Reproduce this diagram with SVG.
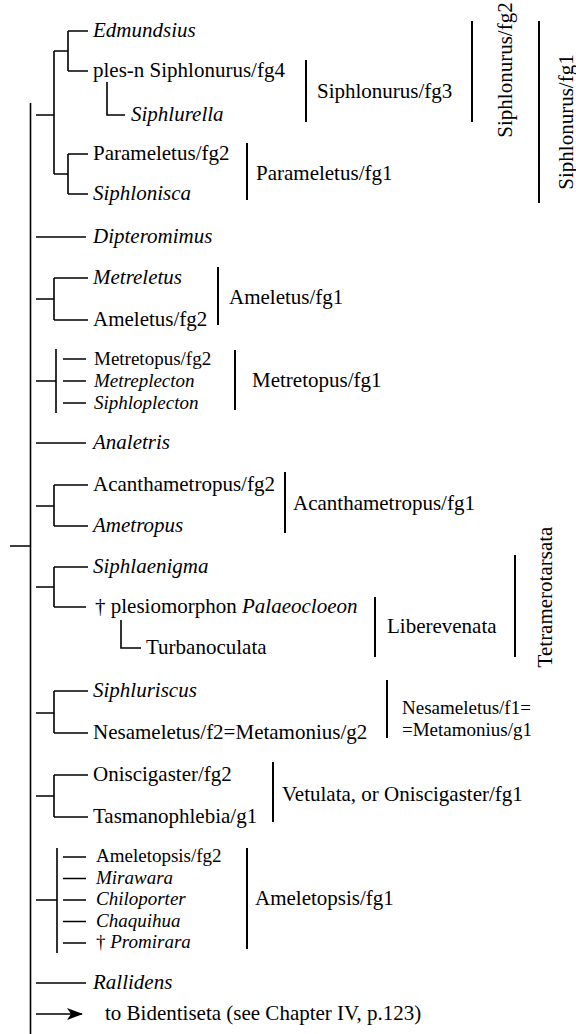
<svg xmlns="http://www.w3.org/2000/svg" width="576" height="1034" viewBox="0 0 576 1034">
<style>
.ln{stroke:#000;stroke-width:1.6;fill:none;stroke-linecap:butt}
.br{stroke:#000;stroke-width:2;fill:none}
.t{font-family:"Liberation Serif","Times New Roman",serif;font-size:21px;fill:#000}
.s{font-size:19px}
.i{font-style:italic}
.v{text-anchor:middle}
</style>
<defs>
<marker id="arr" viewBox="0 0 16 12" refX="15" refY="6" markerWidth="16" markerHeight="12" markerUnits="userSpaceOnUse" orient="auto">
<path d="M0,0 L16,6 L0,12 L4,6 Z" fill="#000"/>
</marker>
</defs>
<g id="connectors">
<path class="ln" d="M30.5,103 V1034 M10,546 H30.5"/>
<path class="ln" d="M36,115 H54 M54,51 V174 M54,51 H68 M68,31 V71 M68,31 H88 M68,71 H88 M107,82 V115 H125 M54,174 H68 M68,154 V194 M68,154 H88 M68,194 H88"/>
<path class="ln" d="M36,237 H86"/>
<path class="ln" d="M36,299 H54 M54,278 V320 M54,278 H88 M54,320 H88"/>
<path class="ln" d="M36,381 H56 M56,349 V413 M63,359 H86 M63,381 H86 M63,403 H86"/>
<path class="ln" d="M36,443 H86"/>
<path class="ln" d="M36,506 H54 M54,485 V526 M54,485 H88 M54,526 H88"/>
<path class="ln" d="M36,587 H54 M54,567 V607 M54,567 H88 M54,607 H86 M121,620 V648 H141"/>
<path class="ln" d="M36,713 H54 M54,691 V733 M54,691 H88 M54,733 H88"/>
<path class="ln" d="M36,796 H54 M54,775 V817 M54,775 H88 M54,817 H88"/>
<path class="ln" d="M36,900 H57 M57,848 V953 M63,857 H86 M63,878.5 H86 M63,900 H86 M63,921.5 H86 M63,943 H86"/>
<path class="ln" d="M36,983 H86"/>
<path class="ln" d="M36,1014 H82" marker-end="url(#arr)"/>
</g>
<g id="n-edmundsius"><text class="t i" x="93" y="37">Edmundsius</text></g>
<g id="n-plesn"><text class="t" x="93" y="77">ples-n Siphlonurus/fg4</text></g>
<g id="n-siphlurella"><text class="t i" x="131" y="121">Siphlurella</text></g>
<g id="n-parameletus2"><text class="t" x="93" y="160">Parameletus/fg2</text></g>
<g id="n-siphlonisca"><text class="t i" x="93" y="200">Siphlonisca</text></g>
<g id="b-siphlonurus3"><path class="br" d="M306,60 V122"/><text class="t" x="317" y="98">Siphlonurus/fg3</text></g>
<g id="b-parameletus1"><path class="br" d="M247,143 V200"/><text class="t" x="256" y="180">Parameletus/fg1</text></g>
<g id="b-siphlonurus2"><path class="br" d="M472,21 V122"/><text class="t v" transform="translate(512,70) rotate(-90)">Siphlonurus/fg2</text></g>
<g id="b-siphlonurus1"><path class="br" d="M539,21 V203"/><text class="t v" transform="translate(573,122) rotate(-90)">Siphlonurus/fg1</text></g>
<g id="n-dipteromimus"><text class="t i" x="93" y="243">Dipteromimus</text></g>
<g id="n-metreletus"><text class="t i" x="93" y="284">Metreletus</text></g>
<g id="n-ameletus2"><text class="t" x="93" y="326">Ameletus/fg2</text></g>
<g id="b-ameletus1"><path class="br" d="M218,267 V325"/><text class="t" x="229" y="304">Ameletus/fg1</text></g>
<g id="n-metretopus2"><text class="t s" x="94" y="365">Metretopus/fg2</text></g>
<g id="n-metreplecton"><text class="t s i" x="94" y="387">Metreplecton</text></g>
<g id="n-siphloplecton"><text class="t s i" x="94" y="409">Siphloplecton</text></g>
<g id="b-metretopus1"><path class="br" d="M235,350 V410"/><text class="t" x="252" y="387">Metretopus/fg1</text></g>
<g id="n-analetris"><text class="t i" x="93" y="449">Analetris</text></g>
<g id="n-acanthametropus2"><text class="t" x="93" y="491">Acanthametropus/fg2</text></g>
<g id="n-ametropus"><text class="t i" x="93" y="532">Ametropus</text></g>
<g id="b-acanthametropus1"><path class="br" d="M285,472 V533"/><text class="t" x="293" y="510">Acanthametropus/fg1</text></g>
<g id="n-siphlaenigma"><text class="t i" x="93" y="573">Siphlaenigma</text></g>
<g id="n-palaeocloeon"><text class="t" x="95" y="613">† plesiomorphon <tspan class="i">Palaeocloeon</tspan></text></g>
<g id="n-turbanoculata"><text class="t" x="146" y="654">Turbanoculata</text></g>
<g id="b-liberevenata"><path class="br" d="M375,597 V657"/><text class="t" x="387" y="633">Liberevenata</text></g>
<g id="b-tetramerotarsata"><path class="br" d="M515,555 V657"/><text class="t v" transform="translate(552,597) rotate(-90)">Tetramerotarsata</text></g>
<g id="n-siphluriscus"><text class="t i" x="93" y="697">Siphluriscus</text></g>
<g id="n-nesameletus2"><text class="t" x="93" y="739">Nesameletus/f2=Metamonius/g2</text></g>
<g id="b-nesameletus1"><path class="br" d="M387,680 V738"/><text class="t s" x="402" y="714">Nesameletus/f1=</text><text class="t s" x="402" y="736">=Metamonius/g1</text></g>
<g id="n-oniscigaster2"><text class="t" x="93" y="781">Oniscigaster/fg2</text></g>
<g id="n-tasmanophlebia"><text class="t" x="93" y="823">Tasmanophlebia/g1</text></g>
<g id="b-vetulata"><path class="br" d="M273,762 V822"/><text class="t" x="282" y="801">Vetulata, or Oniscigaster/fg1</text></g>
<g id="n-ameletopsis2"><text class="t s" x="96" y="862">Ameletopsis/fg2</text></g>
<g id="n-mirawara"><text class="t s i" x="96" y="883.5">Mirawara</text></g>
<g id="n-chiloporter"><text class="t s i" x="96" y="905">Chiloporter</text></g>
<g id="n-chaquihua"><text class="t s i" x="96" y="926.5">Chaquihua</text></g>
<g id="n-promirara"><text class="t s" x="96" y="948">† <tspan class="i">Promirara</tspan></text></g>
<g id="b-ameletopsis1"><path class="br" d="M247,848 V949"/><text class="t" x="255" y="905">Ameletopsis/fg1</text></g>
<g id="n-rallidens"><text class="t i" x="93" y="989">Rallidens</text></g>
<g id="n-bidentiseta"><text class="t" x="105" y="1020">to Bidentiseta (see Chapter IV, p.123)</text></g>
</svg>
